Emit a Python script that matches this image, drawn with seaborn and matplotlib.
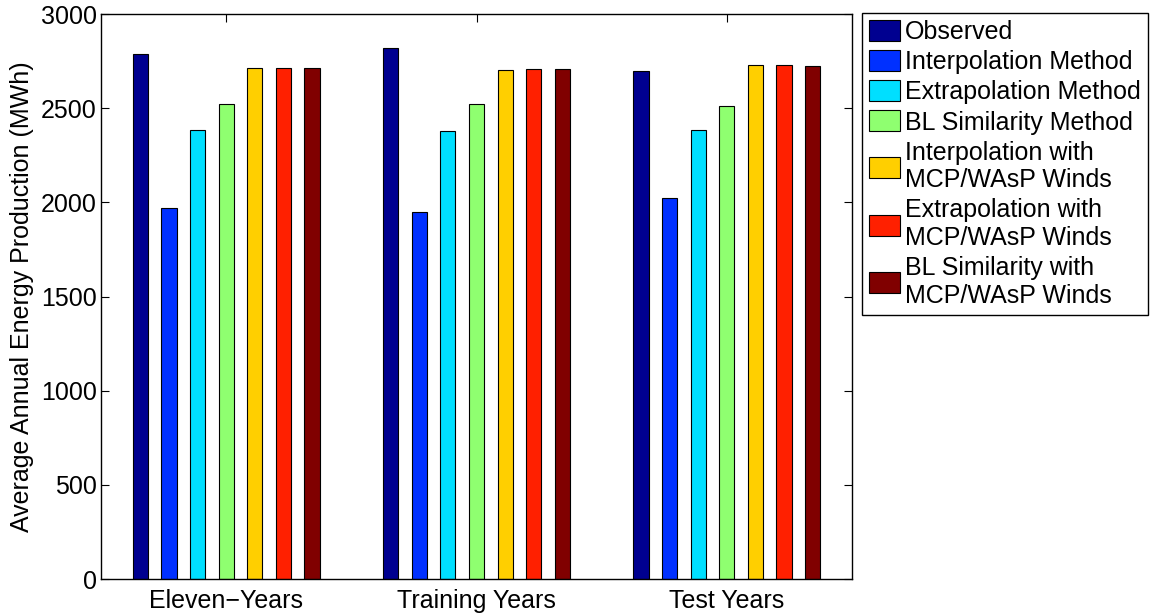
import matplotlib
matplotlib.use("Agg")
import matplotlib.pyplot as plt
import seaborn as sns
import pandas as pd

categories = ["Eleven\u2212Years", "Training Years", "Test Years"]
methods = [
    "Observed",
    "Interpolation Method",
    "Extrapolation Method",
    "BL Similarity Method",
    "Interpolation with\nMCP/WAsP Winds",
    "Extrapolation with\nMCP/WAsP Winds",
    "BL Similarity with\nMCP/WAsP Winds",
]
observed = [2788, 2820, 2695]
interpolation = [1970, 1950, 2023]
extrapolation = [2382, 2380, 2385]
bl_similarity = [2521, 2523, 2511]
interp_mcp = [2712, 2703, 2730]
extrap_mcp = [2714, 2709, 2730]
bl_mcp = [2714, 2709, 2723]
yticks = [0, 500, 1000, 1500, 2000, 2500, 3000]

colors = ["#000090", "#0030FF", "#00DFFF", "#8FFF70", "#FFCF00", "#FF2000", "#800000"]

series = [observed, interpolation, extrapolation, bl_similarity, interp_mcp, extrap_mcp, bl_mcp]
rows = []
for m, vals in zip(methods, series):
    for c, v in zip(categories, vals):
        rows.append({"Period": c, "Method": m, "Value": v})
df = pd.DataFrame(rows)

sns.set_style("white")
plt.rcParams["font.family"] = ["Liberation Sans", "DejaVu Sans"]
plt.rcParams["text.color"] = "black"
plt.rcParams["axes.labelcolor"] = "black"
plt.rcParams["xtick.color"] = "black"
plt.rcParams["ytick.color"] = "black"

fig = plt.figure(figsize=(11.52, 6.15), dpi=100)
ax = fig.add_axes([0.0877, 0.0585, 0.7396 - 0.0877, 0.9772 - 0.0585])

sns.barplot(data=df, x="Period", y="Value", hue="Method", order=categories,
            hue_order=methods, palette=colors, width=0.8, gap=0.47,
            edgecolor="black", linewidth=0.8, saturation=1, ax=ax, legend=True)

ax.set_xlim(-0.5, 2.5)
ax.set_ylim(0, 3000)
ax.set_yticks(yticks)
ax.set_yticklabels([str(t) for t in yticks])
ax.set_xlabel("")
ax.set_ylabel("Average Annual Energy Production (MWh)", fontsize=18, labelpad=5)
ax.tick_params(axis="both", direction="in", length=6, width=0.8, labelsize=18,
               top=True, right=True, bottom=True, left=True, color="black",
               labelcolor="black")
ax.tick_params(axis="x", pad=7)
ax.tick_params(axis="y", pad=3)
for s in ax.spines.values():
    s.set_visible(True)
    s.set_color("black")
    s.set_linewidth(1.0)

handles, labels = ax.get_legend_handles_labels()
ax.get_legend().remove()
leg = fig.legend(handles, labels, loc="upper left", bbox_to_anchor=(0.7483, 0.979),
                 bbox_transform=fig.transFigure, fontsize=18, frameon=True,
                 fancybox=False, framealpha=1, edgecolor="black",
                 handlelength=1.24, handleheight=0.92, handletextpad=0.2,
                 labelspacing=0.24, borderpad=0.28, borderaxespad=0)
leg.get_frame().set_linewidth(1.0)
for t in leg.get_texts():
    t.set_linespacing(1.2)
    t.set_color("black")

fig.savefig("out.png", dpi=100)
